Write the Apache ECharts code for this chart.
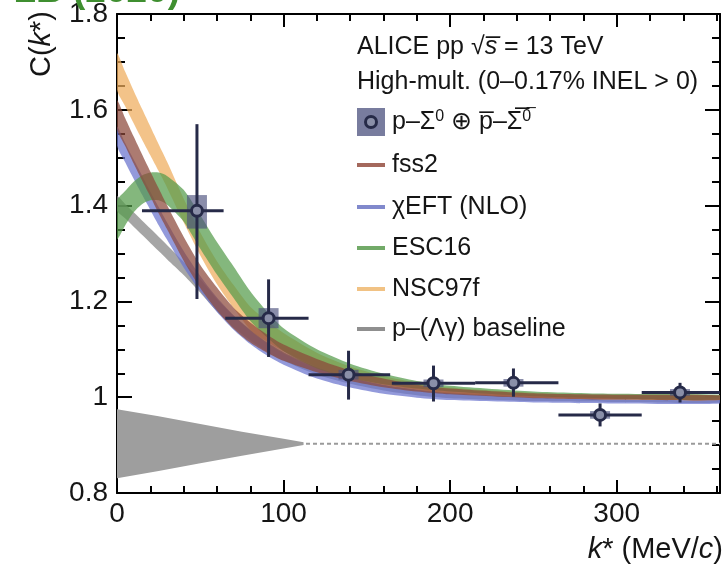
<!DOCTYPE html>
<html><head><meta charset="utf-8">
<script src="https://cdn.jsdelivr.net/npm/echarts@6/dist/echarts.min.js"></script>
<style>html,body{margin:0;padding:0;background:#fff;}#main{width:728px;height:566px;}</style>
</head><body><div id="main"></div>
<script>
const FONT = '"Liberation Sans", Arial, Helvetica, sans-serif';

// ---- measured data points p–Σ0 ⊕ anti ----
const dataK     = [48, 91, 139, 190, 238, 290, 338];
const dataC     = [1.389, 1.165, 1.047, 1.029, 1.030, 0.963, 1.010];
const dataKLow  = [15, 65, 115, 165, 215, 265, 315];
const dataKHigh = [64, 115, 164, 215, 265, 315, 365];
const statLow   = [1.205, 1.084, 0.995, 0.991, 1.001, 0.939, 0.989];
const statHigh  = [1.570, 1.246, 1.097, 1.066, 1.060, 0.987, 1.030];
const systLow   = [1.352, 1.144, 1.037, 1.021, 1.022, 0.955, 1.003];
const systHigh  = [1.422, 1.186, 1.057, 1.037, 1.038, 0.971, 1.017];

// ---- model bands (centre and half width at each k*) ----
const bandK = [0, 5, 10, 15, 20, 25, 30, 40, 50, 60, 70, 80, 90, 100, 120, 140, 160, 180, 200, 250, 300, 362];
const fss2Mid   = [1.590,1.553,1.516,1.480,1.445,1.410,1.376,1.310,1.252,1.205,1.165,1.135,1.112,1.093,1.066,1.045,1.030,1.019,1.012,1.003,1.000,0.999];
const fss2Half  = [0.030,0.029,0.028,0.027,0.026,0.026,0.025,0.025,0.024,0.024,0.022,0.021,0.019,0.017,0.014,0.011,0.009,0.007,0.006,0.005,0.005,0.005];
const eftMid    = [1.545,1.510,1.476,1.443,1.410,1.378,1.347,1.288,1.237,1.193,1.156,1.125,1.100,1.080,1.050,1.030,1.016,1.007,1.001,0.995,0.993,0.993];
const eftHalf   = [0.020,0.020,0.020,0.020,0.019,0.019,0.018,0.017,0.016,0.015,0.015,0.014,0.013,0.012,0.011,0.010,0.009,0.008,0.007,0.006,0.006,0.006];
const esc16Mid  = [1.370,1.395,1.418,1.433,1.440,1.440,1.432,1.400,1.345,1.290,1.240,1.190,1.152,1.120,1.080,1.055,1.038,1.026,1.018,1.007,1.002,1.000];
const esc16Half = [0.040,0.036,0.032,0.030,0.029,0.029,0.030,0.033,0.035,0.034,0.033,0.031,0.027,0.024,0.020,0.015,0.011,0.008,0.006,0.005,0.005,0.005];
const nscMid    = [1.680,1.643,1.606,1.570,1.535,1.500,1.465,1.390,1.320,1.260,1.210,1.165,1.138,1.115,1.078,1.053,1.035,1.023,1.014,1.004,1.000,0.999];
const nscHalf   = [0.038,0.036,0.034,0.032,0.030,0.028,0.027,0.025,0.024,0.024,0.024,0.024,0.022,0.019,0.015,0.011,0.009,0.007,0.006,0.005,0.005,0.005];
const baseMid   = [1.405,1.388,1.371,1.354,1.337,1.320,1.303,1.269,1.232,1.192,1.158,1.130,1.105,1.085,1.055,1.035,1.020,1.010,1.004,0.998,0.996,0.995];
const baseHalf  = [0.015,0.015,0.015,0.015,0.015,0.015,0.015,0.014,0.014,0.013,0.012,0.011,0.010,0.009,0.008,0.007,0.006,0.006,0.006,0.006,0.006,0.006];

// ---- residual (hatched) band around 0.9 ----
const resK    = [0, 25, 50, 75, 100, 112];
const resMid  = [0.903, 0.903, 0.903, 0.903, 0.903, 0.903];
const resHalf = [0.072, 0.057, 0.041, 0.025, 0.010, 0.003];
const resLineK = [0, 362];
const resLineC = [0.903, 0.903];

const xMin = 0, xMax = 362, yMin = 0.8, yMax = 1.8;

const chart = echarts.init(document.getElementById('main'), null, {renderer:'canvas'});

function band(name, mid, half, color, z, kArr, smooth) {
  const ks = kArr || bandK;
  return {
    type: 'custom', name, xAxisIndex: 0, yAxisIndex: 0, clip: true, silent: true, z,
    data: ks.map((k, i) => [k, mid[i] - half[i], mid[i] + half[i]]),
    renderItem(params, api) {
      if (params.dataIndex !== 0) return null;
      const up = [], lo = [];
      for (let i = 0; i < ks.length; i++) {
        up.push(api.coord([ks[i], mid[i] + half[i]]));
        lo.push(api.coord([ks[i], mid[i] - half[i]]));
      }
      return { type: 'polygon', shape: { points: up.concat(lo.reverse()), smooth: smooth == null ? 0.25 : smooth }, style: { fill: color } };
    }
  };
}

const ink = '#262a48';
const pointSeries = {
  type: 'custom', name: 'data', xAxisIndex: 0, yAxisIndex: 0, clip: true, z: 20,
  data: dataK.map((k, i) => [k, dataC[i], dataKLow[i], dataKHigh[i], statLow[i], statHigh[i], systLow[i], systHigh[i]]),
  renderItem(params, api) {
    const c = api.coord([api.value(0), api.value(1)]);
    const xl = api.coord([api.value(2), api.value(1)]);
    const xh = api.coord([api.value(3), api.value(1)]);
    const yl = api.coord([api.value(0), api.value(4)]);
    const yh = api.coord([api.value(0), api.value(5)]);
    const sl = api.coord([api.value(0), api.value(6)]);
    const sh = api.coord([api.value(0), api.value(7)]);
    return { type: 'group', children: [
      { type: 'rect', shape: { x: c[0] - 10, y: sh[1], width: 20, height: sl[1] - sh[1] }, style: { fill: 'rgba(75,80,125,0.65)' } },
      { type: 'line', shape: { x1: xl[0], y1: c[1], x2: xh[0], y2: c[1] }, style: { stroke: ink, lineWidth: 3 } },
      { type: 'line', shape: { x1: c[0], y1: yl[1], x2: c[0], y2: yh[1] }, style: { stroke: ink, lineWidth: 3 } },
      { type: 'circle', shape: { cx: c[0], cy: c[1], r: 5.5 }, style: { fill: '#8a8fa8', stroke: ink, lineWidth: 3 } }
    ]};
  }
};

const axisLineStyle = { color: '#000', width: 2 };
function xAx(pos, interval, len, showLine, showLabel) {
  return {
    type: 'value', min: xMin, max: xMax, interval, position: pos,
    axisLine: { show: showLine, onZero: false, lineStyle: axisLineStyle },
    axisTick: { show: true, inside: true, length: len, lineStyle: { color: '#000', width: 2 } },
    axisLabel: { show: showLabel, fontSize: 28, color: '#151515', fontFamily: FONT, margin: 7, showMaxLabel: false },
    splitLine: { show: false }
  };
}
function yAx(pos, interval, len, showLine, showLabel) {
  return {
    type: 'value', min: yMin, max: yMax, interval, position: pos,
    axisLine: { show: showLine, onZero: false, lineStyle: axisLineStyle },
    axisTick: { show: true, inside: true, length: len, lineStyle: { color: '#000', width: 2 } },
    axisLabel: { show: showLabel, fontSize: 28, color: '#151515', fontFamily: FONT, margin: 9,
      formatter: v => (Math.round(v * 100) / 100).toString() },
    splitLine: { show: false }
  };
}

const legendX = 357, legendTextX = 392;
const LFS = 25;
const txtStyle = (text) => ({ text, fill: '#151515', fontSize: LFS, fontFamily: FONT, align: 'left', verticalAlign: 'middle' });
const legendLines = [
  { label: 'fss2', color: '#a4685c', y: 165 },
  { label: 'χEFT (NLO)', color: '#8189cc', y: 207 },
  { label: 'ESC16', color: '#72aa68', y: 248 },
  { label: 'NSC97f', color: '#f1c284', y: 289 },
  { label: 'p–(Λγ) baseline', color: '#8f8f8f', y: 329 }
];

const graphic = [
  { type: 'text', x: 180, y: 10, z: 100, style: { text: 'PLB (2020)', fill: '#3f8f30', fontSize: 37, fontWeight: 'bold', fontFamily: FONT, align: 'right', verticalAlign: 'bottom' } },
  { type: 'text', x: 42, y: 44, rotation: Math.PI / 2, z: 100, style: {
      text: '{n|C(}{i|k}{n|*)}', align: 'center', verticalAlign: 'middle',
      rich: { n: { fontSize: 29, fontFamily: FONT, fill: '#151515' }, i: { fontSize: 29, fontFamily: FONT, fontStyle: 'italic', fill: '#151515' } } } },
  { type: 'text', x: 723, y: 550, z: 100, style: {
      text: '{i|k}{n|* (MeV/}{i|c}{n|)}', align: 'right', verticalAlign: 'middle',
      rich: { n: { fontSize: 29, fontFamily: FONT, fill: '#151515' }, i: { fontSize: 29, fontFamily: FONT, fontStyle: 'italic', fill: '#151515' } } } },
  { type: 'text', x: legendX, y: 47, z: 100, style: {
      text: '{n|ALICE pp √}{i|s\u0305}{n| = 13 TeV}', align: 'left', verticalAlign: 'middle',
      rich: { n: { fontSize: LFS, fontFamily: FONT, fill: '#151515' }, i: { fontSize: LFS, fontFamily: FONT, fontStyle: 'italic', fill: '#151515' } } } },
  { type: 'text', x: legendX, y: 82, z: 100, style: txtStyle('High-mult. (0–0.17% INEL > 0)') },
  { type: 'rect', x: legendX, y: 108, z: 100, shape: { x: 0, y: 0, width: 28, height: 28 }, style: { fill: 'rgba(75,80,125,0.75)' } },
  { type: 'circle', x: legendX + 14, y: 122, z: 101, shape: { cx: 0, cy: 0, r: 5.5 }, style: { fill: '#8a8fa8', stroke: ink, lineWidth: 3 } },
  { type: 'text', x: legendTextX, y: 122, z: 100, style: {
      text: '{n|p–Σ}{s|0}{n| ⊕ p\u0305–Σ\u0305}{s|0\u0305}', align: 'left', verticalAlign: 'middle',
      rich: { n: { fontSize: LFS, fontFamily: FONT, fill: '#151515' }, s: { fontSize: 16, fontFamily: FONT, fill: '#151515', verticalAlign: 'top', padding: [0, 0, 11, 0] } } } }
];
legendLines.forEach(l => {
  graphic.push({ type: 'line', z: 100, shape: { x1: legendX, y1: l.y, x2: legendX + 28, y2: l.y }, style: { stroke: l.color, lineWidth: 4 } });
  graphic.push({ type: 'text', x: legendTextX, y: l.y, z: 100, style: txtStyle(l.label) });
});

const option = {
  animation: false,
  backgroundColor: '#fff',
  grid: { left: 117, top: 11, right: 8, bottom: 73, containLabel: false },
  xAxis: [
    xAx('bottom', 100, 13, true, true),
    xAx('bottom', 20, 7, false, false),
    xAx('top', 100, 13, true, false),
    xAx('top', 20, 7, false, false)
  ],
  yAxis: [
    yAx('left', 0.2, 15, true, true),
    yAx('left', 0.05, 8, false, false),
    yAx('right', 0.2, 15, true, false),
    yAx('right', 0.05, 8, false, false)
  ],
  series: [
    { type: 'line', name: 'resline', xAxisIndex: 0, yAxisIndex: 0, z: 0, silent: true, symbol: 'none',
      data: resLineK.map((k, i) => [k, resLineC[i]]), lineStyle: { color: '#9a9a9a', width: 2, type: [4, 3] } },
    band('residual', resMid, resHalf, 'rgb(158,158,158)', 1, resK, 0),
    band('p–(Λγ) baseline', baseMid, baseHalf, 'rgba(135,135,135,0.75)', 2),
    band('χEFT (NLO)', eftMid, eftHalf, 'rgba(105,115,205,0.72)', 3),
    band('NSC97f', nscMid, nscHalf, 'rgba(238,172,92,0.72)', 4),
    band('ESC16', esc16Mid, esc16Half, 'rgba(85,155,75,0.72)', 5),
    band('fss2', fss2Mid, fss2Half, 'rgba(140,72,58,0.72)', 6),
    pointSeries
  ],
  graphic
};
chart.setOption(option);
</script></body></html>
